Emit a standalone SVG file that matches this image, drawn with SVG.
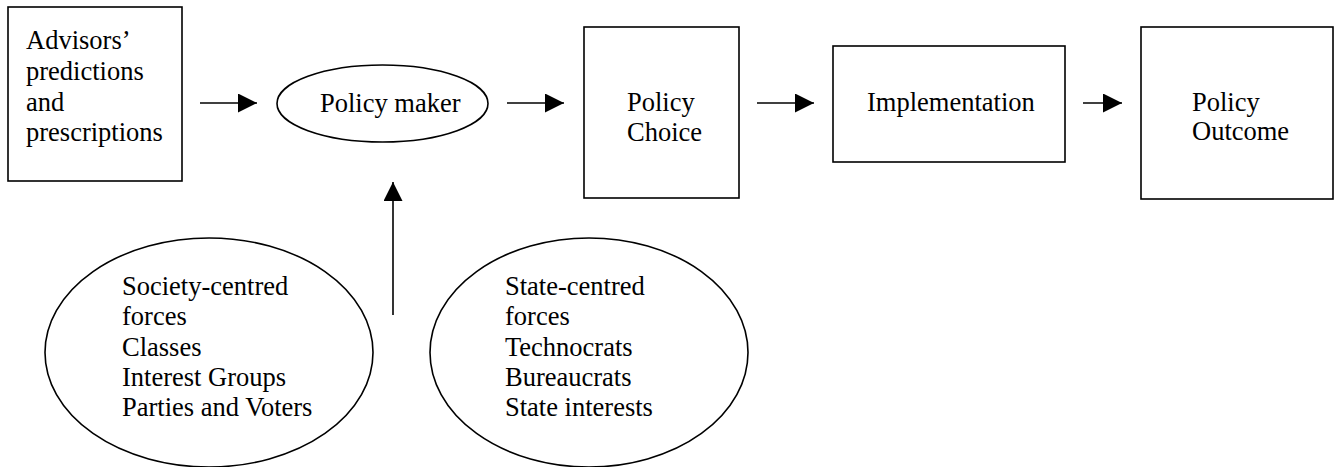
<svg xmlns="http://www.w3.org/2000/svg" width="1335" height="467" viewBox="0 0 1335 467">
<style>
.shape{fill:#fff;stroke:#000;stroke-width:1.6}
.conn{stroke:#000;stroke-width:1.6;fill:none}
text{font-family:"Liberation Serif","Times New Roman",serif;font-size:26.5px;fill:#000}
</style>
<defs>
<marker id="ah" viewBox="0 0 19 19" refX="19" refY="9.5" markerWidth="19" markerHeight="19" markerUnits="userSpaceOnUse" orient="auto">
<path d="M0,0 L19,9.5 L0,19 z" fill="#000"/>
</marker>
</defs>
<rect width="1335" height="467" fill="#fff"/>
<g id="advisors">
<rect class="shape" x="8" y="7" width="174" height="174"/>
<text x="26" y="49">Advisors’</text>
<text x="26" y="80">predictions</text>
<text x="26" y="111">and</text>
<text x="26" y="141">prescriptions</text>
</g>
<g id="policy-maker">
<ellipse class="shape" cx="382.5" cy="103.5" rx="105.5" ry="38.5"/>
<text x="320" y="112">Policy maker</text>
</g>
<g id="policy-choice">
<rect class="shape" x="584" y="27" width="155" height="171"/>
<text x="627" y="111">Policy</text>
<text x="627" y="141">Choice</text>
</g>
<g id="implementation">
<rect class="shape" x="833" y="46" width="232" height="116"/>
<text x="867" y="111">Implementation</text>
</g>
<g id="policy-outcome">
<rect class="shape" x="1141" y="27" width="192" height="172"/>
<text x="1192" y="111">Policy</text>
<text x="1192" y="140">Outcome</text>
</g>
<g id="society-forces">
<ellipse class="shape" cx="209" cy="352.5" rx="164" ry="114.5"/>
<text x="122" y="295">Society-centred</text>
<text x="122" y="325">forces</text>
<text x="122" y="356">Classes</text>
<text x="122" y="386">Interest Groups</text>
<text x="122" y="416">Parties and Voters</text>
</g>
<g id="state-forces">
<ellipse class="shape" cx="589" cy="352.5" rx="159" ry="114.5"/>
<text x="505" y="295">State-centred</text>
<text x="505" y="325">forces</text>
<text x="505" y="356">Technocrats</text>
<text x="505" y="386">Bureaucrats</text>
<text x="505" y="416">State interests</text>
</g>
<g id="connectors">
<line class="conn" x1="200" y1="103" x2="257" y2="103" marker-end="url(#ah)"/>
<line class="conn" x1="507" y1="103" x2="564" y2="103" marker-end="url(#ah)"/>
<line class="conn" x1="757" y1="103" x2="814" y2="103" marker-end="url(#ah)"/>
<line class="conn" x1="1083" y1="103" x2="1122" y2="103" marker-end="url(#ah)"/>
<line class="conn" x1="393" y1="315" x2="393" y2="182" marker-end="url(#ah)"/>
</g>
</svg>
